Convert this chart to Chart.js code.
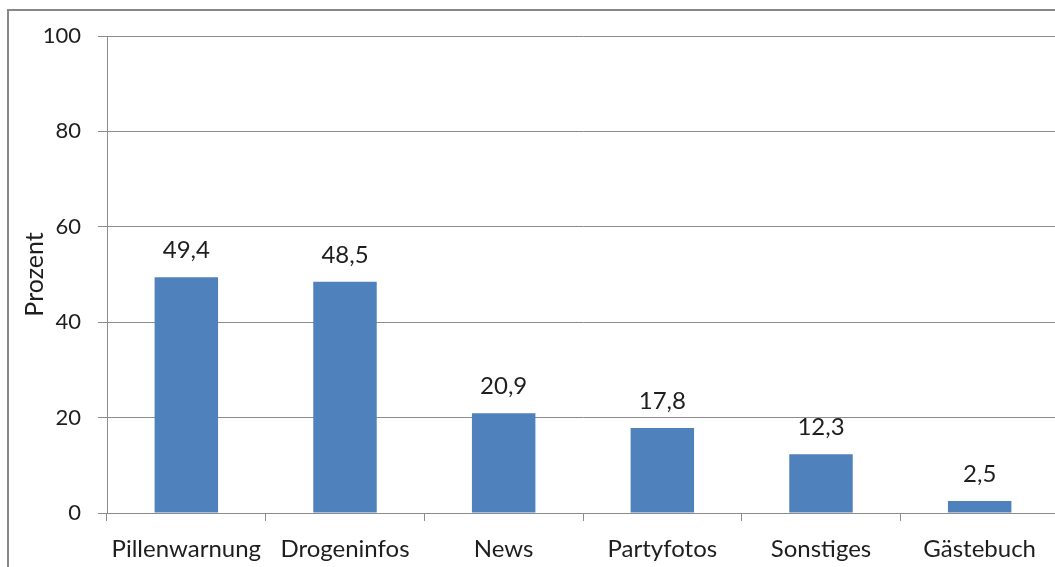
<!DOCTYPE html>
<html lang="de">
<head>
<meta charset="utf-8">
<title>Nutzung der Bereiche</title>
<script src="https://cdn.jsdelivr.net/npm/chart.js@4.4.1/dist/chart.umd.min.js"></script>
<style>
	body{ margin:0; background:#fff; overflow:hidden; width:1055px; height:567px; position:relative; }
	#frame{ position:absolute; left:7px; top:9px; width:1100px; height:620px; border:2px solid #888; box-sizing:border-box; }
	#chart{ position:absolute; left:0; top:0; }
</style>
</head>
<body>
<div id="frame"></div>
<canvas id="chart" width="1059" height="567"></canvas>
<script>
// Bereiche der Seite und Anteil der Befragten (in Prozent)
const categories = ['Pillenwarnung', 'Drogeninfos', 'News', 'Partyfotos', 'Sonstiges', 'Gästebuch'];
const values = [49.4, 48.5, 20.9, 17.8, 12.3, 2.5];
const yTicks = [0, 20, 40, 60, 80, 100];

const fontFamily = 'Lato, "Open Sans", sans-serif';
const textColor = '#1e1e1e';
const lineColor = '#8c8c8c';

// write the value over each bar, with a decimal comma
const valueLabels = {
	id: 'valueLabels',
	afterDatasetsDraw(chart){
		let ctx = chart.ctx;
		let meta = chart.getDatasetMeta(0);
		ctx.save();
		ctx.font = '24px ' + fontFamily;
		ctx.fillStyle = textColor;
		ctx.textAlign = 'center';
		ctx.textBaseline = 'alphabetic';
		meta.data.forEach((bar, i) => {
			ctx.fillText(String(values[i]).replace('.', ','), bar.x, bar.y - 19);
		});
		ctx.restore();
	}
};

document.addEventListener('DOMContentLoaded', () => {
	let ctx = document.querySelector('#chart').getContext('2d');
	new Chart(ctx, {
		type: 'bar',
		data: {
			labels: categories,
			datasets: [{
				data: values,
				backgroundColor: '#4f81bd',
				categoryPercentage: 1,
				barPercentage: 0.4
			}]
		},
		options: {
			responsive: false,
			animation: false,
			layout: { padding: { top: 36, left: 0, right: 0, bottom: 0 } },
			plugins: {
				legend: { display: false },
				tooltip: { enabled: false }
			},
			scales: {
				x: {
					offset: true,
					grid: { offset: true, drawOnChartArea: false, drawTicks: true, tickLength: 8, color: lineColor },
					border: { color: lineColor, width: 1 },
					ticks: { color: textColor, font: { family: fontFamily, size: 24 }, padding: 14, maxRotation: 0, autoSkip: false },
					afterFit(scale){ scale.height = 54; }
				},
				y: {
					min: 0,
					max: 100,
					afterBuildTicks(scale){ scale.ticks = yTicks.map(v => ({ value: v })); },
					grid: { color: lineColor, tickLength: 9 },
					border: { color: lineColor, width: 1 },
					ticks: { color: textColor, font: { family: fontFamily, size: 22 }, padding: 17 },
					title: {
						display: true,
						text: 'Prozent',
						color: textColor,
						font: { family: fontFamily, size: 25 },
						padding: { top: 20, bottom: 0 }
					},
					afterFit(scale){ scale.width = 107; }
				}
			}
		},
		plugins: [valueLabels]
	});
});
</script>
</body>
</html>
